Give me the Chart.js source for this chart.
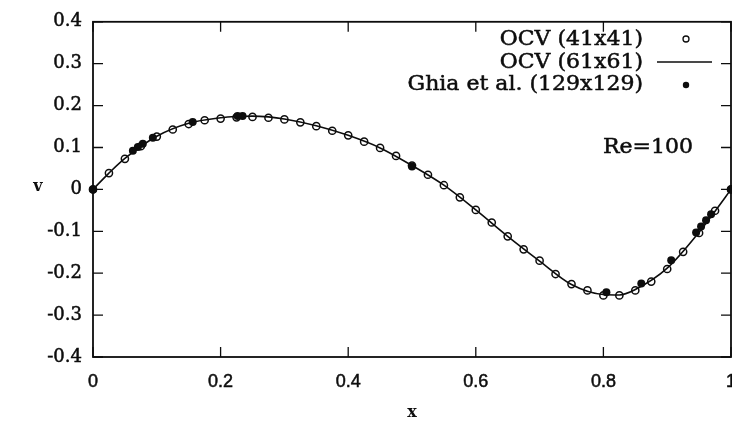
<!DOCTYPE html>
<html>
<head>
<meta charset="utf-8">
<script src="https://cdn.jsdelivr.net/npm/chart.js@4.4.1/dist/chart.umd.min.js"></script>
<style>
  html, body { margin: 0; padding: 0; background: #fff; overflow: hidden; }
  #wrap { width: 750px; height: 437px; }
</style>
</head>
<body>
<div id="wrap"><canvas id="chart" width="750" height="437"></canvas></div>
<script>
// OCV 41x41 grid points (open circles)
const ocv41X = [0, 0.025, 0.05, 0.075, 0.1, 0.125, 0.15, 0.175, 0.2, 0.225,
  0.25, 0.275, 0.3, 0.325, 0.35, 0.375, 0.4, 0.425, 0.45, 0.475,
  0.5, 0.525, 0.55, 0.575, 0.6, 0.625, 0.65, 0.675, 0.7, 0.725,
  0.75, 0.775, 0.8, 0.825, 0.85, 0.875, 0.9, 0.925, 0.95, 0.975, 1];
const ocv41V = [0, 0.039, 0.073, 0.103, 0.126, 0.143, 0.156, 0.165, 0.169, 0.172,
  0.173, 0.171, 0.167, 0.160, 0.151, 0.140, 0.129, 0.114, 0.099, 0.080,
  0.057, 0.035, 0.010, -0.019, -0.049, -0.079, -0.112, -0.143, -0.170, -0.202,
  -0.226, -0.241, -0.253, -0.253, -0.241, -0.220, -0.190, -0.149, -0.104, -0.051, 0];

// OCV 61x61 (solid line)
const ocv61X = [0, 0.025, 0.05, 0.1, 0.15, 0.2, 0.225, 0.25, 0.275, 0.3, 0.35, 0.4, 0.45,
  0.5, 0.55, 0.6, 0.65, 0.7, 0.75, 0.8, 0.825, 0.85, 0.9, 0.95, 0.975, 1];
const ocv61V = [0, 0.039, 0.074, 0.127, 0.158, 0.171, 0.174, 0.175, 0.173, 0.168, 0.152, 0.129, 0.099,
  0.057, 0.010, -0.049, -0.112, -0.171, -0.227, -0.251, -0.252, -0.239, -0.188, -0.102, -0.052, 0];

// Ghia et al. 129x129 (filled dots)
const ghiaX = [1.0, 0.9688, 0.9609, 0.9531, 0.9453, 0.9063, 0.8594, 0.8047, 0.5,
  0.2344, 0.2266, 0.1563, 0.0938, 0.0781, 0.0703, 0.0625, 0.0];
const ghiaV = [0, -0.0591, -0.0739, -0.0886, -0.1031, -0.1691, -0.2245, -0.2453, 0.0545,
  0.1753, 0.1751, 0.1608, 0.1232, 0.1089, 0.1009, 0.0923, 0];

const xTicks = [0, 0.2, 0.4, 0.6, 0.8, 1];
const xTickLabels = ['0', '0.2', '0.4', '0.6', '0.8', '1'];
const yTicks = [-0.4, -0.3, -0.2, -0.1, 0, 0.1, 0.2, 0.3, 0.4];
const yTickLabels = ['-0.4', '-0.3', '-0.2', '-0.1', '0', '0.1', '0.2', '0.3', '0.4'];

const legendLabels = ['OCV (41x41)', 'OCV (61x61)', 'Ghia et al. (129x129)'];
const noteText = 'Re=100';

const ink = '#0d0d0d';
const pts = (xs, vs) => xs.map((x, i) => ({ x: x, y: vs[i] }));

// frame box with inward ticks on all four sides
const frameTicks = {
  id: 'frameTicks',
  beforeDatasetsDraw(chart) {
    const { ctx, chartArea: a, scales: { x, y } } = chart;
    ctx.save();
    ctx.strokeStyle = ink;
    ctx.lineWidth = 1.8;
    ctx.strokeRect(a.left, a.top, a.right - a.left, a.bottom - a.top);
    ctx.lineWidth = 1.3;
    ctx.beginPath();
    x.ticks.forEach(t => {
      const px = x.getPixelForValue(t.value);
      ctx.moveTo(px, a.bottom); ctx.lineTo(px, a.bottom - 10);
      ctx.moveTo(px, a.top); ctx.lineTo(px, a.top + 10);
    });
    y.ticks.forEach(t => {
      const py = y.getPixelForValue(t.value);
      ctx.moveTo(a.left, py); ctx.lineTo(a.left + 10, py);
      ctx.moveTo(a.right, py); ctx.lineTo(a.right - 10, py);
    });
    ctx.stroke();
    ctx.restore();
  }
};

// scanned look: slightly heavier text, a touch wider
function stretchText(ctx, text, xRight, yBase, sx) {
  ctx.save();
  ctx.translate(xRight, yBase);
  ctx.scale(sx, 1);
  ctx.textAlign = 'right';
  ctx.textBaseline = 'alphabetic';
  ctx.fillText(text, 0, 0);
  ctx.strokeText(text, 0, 0);
  ctx.restore();
}

// legend (text left of symbol), Re label and upright "v"
const annotations = {
  id: 'annotations',
  afterDraw(chart) {
    const ctx = chart.ctx;
    ctx.save();
    ctx.fillStyle = ink;
    ctx.strokeStyle = ink;
    ctx.lineWidth = 0.5;
    ctx.font = '20px "DejaVu Serif"';
    const rows = [45, 67.5, 90];
    legendLabels.forEach((t, i) => stretchText(ctx, t, 643, rows[i], 1.1));
    stretchText(ctx, noteText, 693, 153, 1.1);

    ctx.lineWidth = 1.3;
    ctx.beginPath();
    ctx.arc(686, 39, 3, 0, Math.PI * 2);
    ctx.stroke();
    ctx.lineWidth = 1.5;
    ctx.beginPath();
    ctx.moveTo(657, 62); ctx.lineTo(712, 62);
    ctx.stroke();
    ctx.beginPath();
    ctx.arc(686, 85, 3.2, 0, Math.PI * 2);
    ctx.fill();

    ctx.font = 'bold 16px "DejaVu Serif"';
    ctx.textAlign = 'center';
    ctx.textBaseline = 'middle';
    ctx.fillText('v', 38, 187);
    ctx.restore();
  }
};

new Chart(document.getElementById('chart'), {
  type: 'scatter',
  data: {
    datasets: [
      {
        label: legendLabels[2],
        data: pts(ghiaX, ghiaV),
        pointRadius: 4,
        pointBackgroundColor: ink,
        pointBorderWidth: 0,
        showLine: false,
        clip: false,
        order: 0
      },
      {
        label: legendLabels[0],
        data: pts(ocv41X, ocv41V),
        pointRadius: 3.6,
        pointBackgroundColor: 'rgba(255,255,255,0)',
        pointBorderColor: ink,
        pointBorderWidth: 1.5,
        showLine: false,
        clip: false,
        order: 1
      },
      {
        label: legendLabels[1],
        data: pts(ocv61X, ocv61V),
        showLine: true,
        pointRadius: 0,
        borderColor: ink,
        borderWidth: 1.6,
        cubicInterpolationMode: 'monotone',
        clip: false,
        order: 2
      }
    ]
  },
  options: {
    responsive: false,
    animation: false,
    layout: { padding: { left: 0, right: 15, top: 15, bottom: 0 } },
    plugins: {
      legend: { display: false },
      tooltip: { enabled: false }
    },
    scales: {
      x: {
        type: 'linear',
        min: 0,
        max: 1,
        afterBuildTicks: s => { s.ticks = xTicks.map(v => ({ value: v })); },
        afterFit: s => { s.height = 80; },
        grid: { display: false, drawTicks: false },
        border: { display: false },
        ticks: {
          color: ink,
          textStrokeColor: ink,
          textStrokeWidth: 0.5,
          padding: 14,
          maxRotation: 0,
          autoSkip: false,
          font: { family: '"Liberation Sans"', size: 18 },
          callback: (v, i) => xTickLabels[i]
        },
        title: {
          display: true,
          text: 'x',
          color: ink,
          font: { family: '"DejaVu Serif"', size: 16, weight: 'bold' },
          padding: { top: 0, bottom: 15 }
        }
      },
      y: {
        type: 'linear',
        min: -0.4,
        max: 0.4,
        afterBuildTicks: s => { s.ticks = yTicks.map(v => ({ value: v })); },
        afterFit: s => { s.width = 93; },
        grid: { display: false, drawTicks: false },
        border: { display: false },
        ticks: {
          color: ink,
          textStrokeColor: ink,
          textStrokeWidth: 0.5,
          padding: 11,
          autoSkip: false,
          font: { family: '"DejaVu Serif"', size: 18 },
          callback: (v, i) => yTickLabels[i]
        }
      }
    }
  },
  plugins: [frameTicks, annotations]
});
</script>
</body>
</html>
